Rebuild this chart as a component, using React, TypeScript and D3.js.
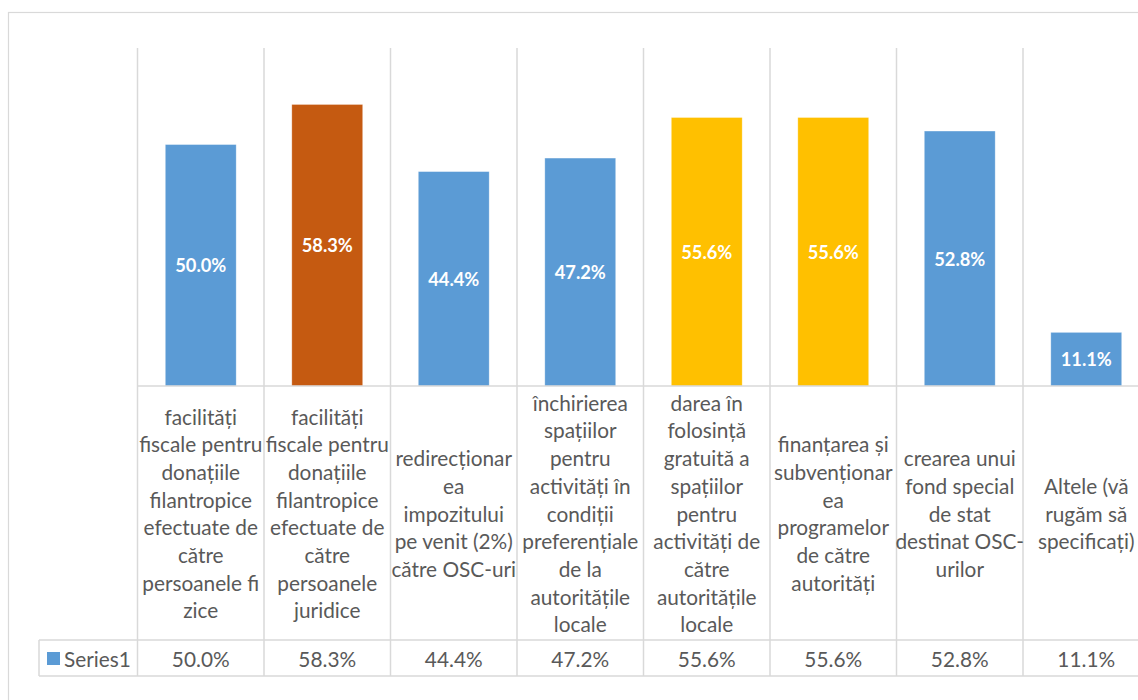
import React from "react";
import * as d3 from "d3";

const categories: string[][] = [
  ["facilități", "fiscale pentru", "donațiile", "filantropice", "efectuate de", "către", "persoanele fi", "zice"],
  ["facilități", "fiscale pentru", "donațiile", "filantropice", "efectuate de", "către", "persoanele", "juridice"],
  ["redirecționar", "ea", "impozitului", "pe venit (2%)", "către OSC-uri"],
  ["închirierea", "spațiilor", "pentru", "activități în", "condiții", "preferențiale", "de la", "autoritățile", "locale"],
  ["darea în", "folosință", "gratuită a", "spațiilor", "pentru", "activități de", "către", "autoritățile", "locale"],
  ["finanțarea și", "subvenționar", "ea", "programelor", "de către", "autorități"],
  ["crearea unui", "fond special", "de stat", "destinat OSC-", "urilor"],
  ["Altele (vă", "rugăm să", "specificați)"],
];
const values: number[] = [0.5, 0.583, 0.444, 0.472, 0.556, 0.556, 0.528, 0.111];
const valueLabels: string[] = ["50.0%", "58.3%", "44.4%", "47.2%", "55.6%", "55.6%", "52.8%", "11.1%"];
const barColors: string[] = ["#5B9BD5", "#C55A11", "#5B9BD5", "#5B9BD5", "#FFC000", "#FFC000", "#5B9BD5", "#5B9BD5"];
const seriesName = "Series1";
const yMax = 0.7;

export default function App() {
  const W = 1138;
  const H = 700;
  const plotLeft = 137.5;
  const catW = 126.5;
  const plotRight = plotLeft + catW * categories.length;
  const plotTop = 48;
  const baseY = 386;
  const labelRowBottom = 640;
  const tableBottom = 676;
  const tableLeft = 39;
  const grid = "#D9D9D9";
  const txt = "#595959";
  const font = "Lato, 'Open Sans', sans-serif";

  const x = d3
    .scaleBand<number>()
    .domain(d3.range(categories.length))
    .range([plotLeft, plotRight])
    .paddingInner(0.44)
    .paddingOuter(0.22);
  const y = d3.scaleLinear().domain([0, yMax]).range([baseY, plotTop]);
  const lineH = 27.7;
  const labelCenter = (baseY + labelRowBottom) / 2;

  return (
    <div style={{ position: "absolute", left: 0, top: 0 }}>
      <svg width={W} height={H} style={{ display: "block", background: "#fff" }}>
        <rect x={8.5} y={12.5} width={W + 20} height={H + 20} fill="#fff" stroke={grid} strokeWidth={1.2} />
        {d3.range(categories.length + 1).map((i) => (
          <line
            key={"v" + i}
            x1={plotLeft + i * catW}
            x2={plotLeft + i * catW}
            y1={plotTop}
            y2={tableBottom}
            stroke={grid}
            strokeWidth={1.5}
          />
        ))}
        {values.map((v, i) => (
          <g key={"b" + i}>
            <rect
              x={x(i)}
              y={y(v)}
              width={x.bandwidth()}
              height={baseY - y(v)}
              fill={barColors[i]}
              stroke="#fff"
              strokeOpacity={0.35}
              strokeWidth={0.8}
            />
            <text
              x={(x(i) as number) + x.bandwidth() / 2}
              y={(y(v) + baseY) / 2}
              textAnchor="middle"
              dominantBaseline="central"
              fill="#fff"
              fontFamily={font}
              fontWeight="bold"
              fontSize={18.3}
            >
              {valueLabels[i]}
            </text>
          </g>
        ))}
        <line x1={plotLeft} x2={plotRight} y1={baseY} y2={baseY} stroke={grid} strokeWidth={1.5} />
        <line x1={tableLeft} x2={plotRight} y1={labelRowBottom} y2={labelRowBottom} stroke={grid} strokeWidth={1.5} />
        <line x1={tableLeft} x2={plotRight} y1={tableBottom} y2={tableBottom} stroke={grid} strokeWidth={1.5} />
        <line x1={tableLeft} x2={tableLeft} y1={labelRowBottom} y2={tableBottom} stroke={grid} strokeWidth={1.5} />
        {categories.map((lines, i) => {
          const cx = plotLeft + i * catW + catW / 2;
          const start = labelCenter - ((lines.length - 1) * lineH) / 2;
          return (
            <text key={"c" + i} textAnchor="middle" fill={txt} fontFamily={font} fontSize={20.8}>
              {lines.map((l, j) => (
                <tspan key={j} x={cx} y={start + j * lineH} dominantBaseline="central">
                  {l}
                </tspan>
              ))}
            </text>
          );
        })}
        <rect x={47} y={652} width={13} height={13} fill={barColors[0]} />
        <text x={64} y={658.5} dominantBaseline="central" fill={txt} fontFamily={font} fontSize={20.8}>
          {seriesName}
        </text>
        {valueLabels.map((l, i) => (
          <text
            key={"t" + i}
            x={plotLeft + i * catW + catW / 2}
            y={658.5}
            textAnchor="middle"
            dominantBaseline="central"
            fill={txt}
            fontFamily={font}
            fontSize={20.8}
          >
            {l}
          </text>
        ))}
      </svg>
    </div>
  );
}
